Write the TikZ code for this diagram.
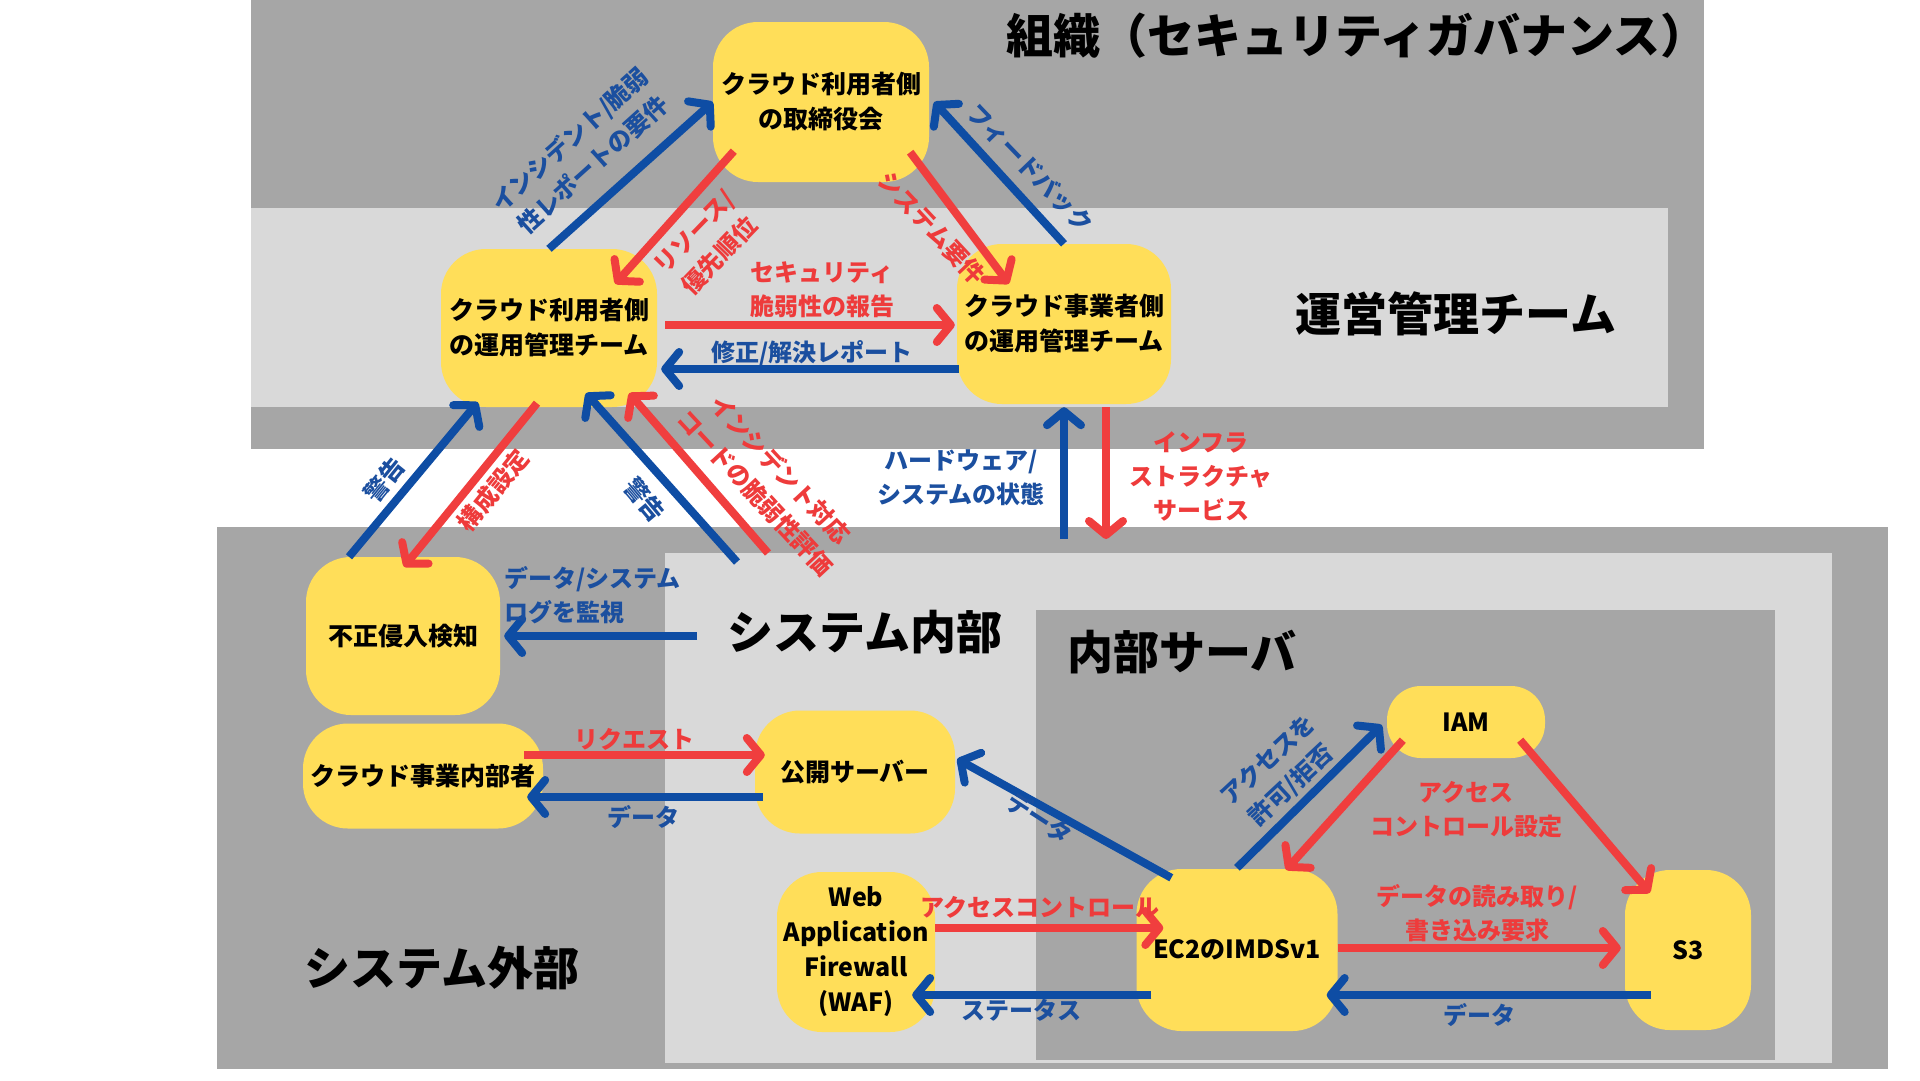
\documentclass[tikz,border=0pt]{standalone}
\usepackage{fontspec}
\setmainfont{Noto Sans CJK JP}
\usetikzlibrary{arrows.meta,calc}
\definecolor{dgray}{HTML}{A6A6A6}
\definecolor{lgray}{HTML}{D9D9D9}
\definecolor{yel}{HTML}{FFDE59}
\definecolor{cblue}{HTML}{0E4DA4}
\definecolor{cred}{HTML}{F03E3E}
\definecolor{tblue}{HTML}{1B4F9F}
\definecolor{tred}{HTML}{EE3B3B}
\tikzset{
  nd/.style={fill=yel, rounded corners=45pt, align=center, inner sep=0pt,
    font=\bfseries\fontsize{25}{35}\selectfont},
  lbB/.style={text=tblue, align=center, inner sep=0pt,
    font=\bfseries\fontsize{24}{34}\selectfont},
  lbR/.style={lbB, text=tred},
  ttl/.style={text=black, inner sep=0pt, font=\bfseries\fontsize{46}{52}\selectfont},
  arrB/.style={draw=cblue, line width=8pt, -{Straight Barb[length=14pt,width=34pt,round]}},
  arrR/.style={arrB, draw=cred},
}
\begin{document}
\begin{tikzpicture}[x=1pt,y=-1pt]
\useasboundingbox (0,0) rectangle (1920,1080);
\fill[white] (0,0) rectangle (1920,1080);
% regions
\fill[dgray] (251,0) rectangle (1704,449);
\fill[lgray] (251,208) rectangle (1668,407);
\fill[dgray] (217,527) rectangle (1888,1069);
\fill[lgray] (665,553) rectangle (1832,1063);
\fill[dgray] (1036,610) rectangle (1775,1060);
% titles
\node[ttl, font=\bfseries\fontsize{47}{52}\selectfont] (t1) at (1357,36) {組織（セキュリティガバナンス）};
\node[ttl] (t2) at (1456,314) {運営管理チーム};
\node[ttl] (t3) at (865,632) {システム内部};
\node[ttl] (t4) at (1182,652) {内部サーバ};
\node[ttl] (t5) at (442,968) {システム外部};
% nodes
\node[nd, minimum width=216pt, minimum height=160pt] (board) at (821,102) {クラウド利用者側\\の取締役会};
\node[nd, minimum width=216pt, minimum height=158pt] (uops) at (549,328) {クラウド利用者側\\の運用管理チーム};
\node[nd, minimum width=214pt, minimum height=160pt] (pops) at (1064,324) {クラウド事業者側\\の運用管理チーム};
\node[nd, minimum width=194pt, minimum height=158pt] (ids) at (403,636) {不正侵入検知};
\node[nd, minimum width=240pt, minimum height=105pt] (insider) at (423,776) {クラウド事業内部者};
\node[nd, minimum width=200pt, minimum height=123pt] (pub) at (855,772) {公開サーバー};
\node[nd, minimum width=158pt, minimum height=160pt] (waf) at (856,952) {Web\\Application\\Firewall\\(WAF)};
\node[nd, minimum width=201pt, minimum height=162pt] (ec2) at (1237,950) {EC2のIMDSv1};
\node[nd, rounded corners=34pt, minimum width=158pt, minimum height=72pt] (iam) at (1466,722) {IAM};
\node[nd, minimum width=126pt, minimum height=160pt] (s3) at (1688,950) {S3};
% free ends
\coordinate (sysA) at (737,562);
\coordinate (sysB) at (768,553);
\coordinate (sysC) at (1064,539);
\coordinate (sysD) at (1106,539);
\coordinate (sysE) at (697,636);
% connectors
\draw[arrB] (uops.north) -- (board.west);
\draw[arrR] ($(board.south west)+(21,-31)$) -- ($(uops.north east)+(-42,35)$);
\draw[arrR] ($(board.south east)+(-19,-30)$) -- ($(pops.north west)+(52,40)$);
\draw[arrB] (pops.north) -- ($(board.east)+(5,0)$);
\draw[arrR] ($(uops.east)+(8,-3)$) -- ($(pops.west)+(-2,1)$);
\draw[arrB] ($(pops.west)+(2,45)$) -- ($(uops.east)+(4,41)$);
\draw[arrB] ($(ids.north)+(-54,0)$) -- ($(uops.south west)+(37,-5)$);
\draw[arrR] ($(uops.south)+(-12,-4)$) -- ($(ids.north)+(1,10)$);
\draw[arrB] (sysA) -- ($(uops.south)+(37,-14)$);
\draw[arrR] (sysB) -- ($(uops.south east)+(-28,-14)$);
\draw[arrB] (sysC) -- ($(pops.south)+(0,3)$);
\draw[arrR] ($(pops.south)+(42,3)$) -- (sysD);
\draw[arrB] (sysE) -- ($(ids.east)+(4,0)$);
\draw[arrR] ($(insider.east)+(-19,-21)$) -- ($(pub.west)+(10,-17)$);
\draw[arrB] ($(pub.west)+(8,25)$) -- ($(insider.east)+(-16,21)$);
\draw[arrB] ($(ec2.north west)+(35,9)$) -- ($(pub.east)+(2,-13)$);
\draw[arrR] ($(waf.east)+(0,-24)$) -- ($(ec2.west)+(27,-22)$);
\draw[arrB] ($(ec2.west)+(15,45)$) -- ($(waf.east)+(-23,43)$);
\draw[arrB] ($(ec2.north)+(0,-1)$) -- ($(iam.west)+(-5,3)$);
\draw[arrR] ($(iam.south west)+(16,-18)$) -- ($(ec2.north)+(49,1)$);
\draw[arrR] ($(iam.south east)+(-25,-18)$) -- ($(s3.north west)+(25,23)$);
\draw[arrR] ($(ec2.east)+(0,-2)$) -- ($(s3.west)+(-4,-2)$);
\draw[arrB] ($(s3.west)+(26,45)$) -- ($(ec2.east)+(-11,45)$);
% labels
\node[lbB, rotate=42] (l1) at (581,152) {インシデント/脆弱\\性レポートの要件};
\node[lbR, rotate=46] (l2) at (707,244) {リソース/\\優先順位};
\node[lbR, rotate=-47] (l3) at (932,228) {システム要件};
\node[lbB, rotate=-46] (l4) at (1030,168) {フィードバック};
\node[lbR] (l5) at (822,290) {セキュリティ\\脆弱性の報告};
\node[lbB] (l6) at (812,353) {修正/解決レポート};
\node[lbB, rotate=51] (l7) at (384,480) {警告};
\node[lbR, rotate=51] (l8) at (493,490) {構成設定};
\node[lbB, rotate=-50] (l9) at (645,500) {警告};
\node[lbR, rotate=-47] (l10) at (768,481) {インシデント対応\\コードの脆弱性評価};
\node[lbB] (l11) at (961,478) {ハードウェア/\\システムの状態};
\node[lbR] (l12) at (1201,476) {インフラ\\ストラクチャ\\サービス};
\node[lbB, align=left, anchor=west] (l13) at (504,595) {データ/システム\\ログを監視};
\node[lbR] (l14) at (634,739) {リクエスト};
\node[lbB] (l15) at (643,817) {データ};
\node[lbB, rotate=-33] (l16) at (1040,818) {データ};
\node[lbR] (l17) at (1040,907) {アクセスコントロール};
\node[lbB] (l18) at (1021,1010) {ステータス};
\node[lbB, rotate=43] (l19) at (1280,773) {アクセスを\\許可/拒否};
\node[lbR] (l20) at (1466,810) {アクセス\\コントロール設定};
\node[lbR] (l21) at (1477,913) {データの読み取り/\\書き込み要求};
\node[lbB] (l22) at (1479,1015) {データ};
\end{tikzpicture}
\end{document}
